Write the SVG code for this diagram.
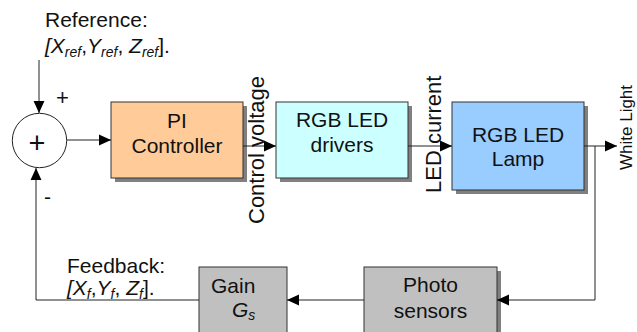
<svg xmlns="http://www.w3.org/2000/svg" width="637" height="332" viewBox="0 0 637 332">
<style>
text{font-family:"Liberation Sans",Arial,sans-serif;font-size:21px;fill:#111}
.box{stroke:#333;stroke-width:1}
.sh{fill:#808080}
.c{text-anchor:middle}
.it{font-style:italic}
.sub{font-style:italic;font-size:14px}
.rot{font-size:22px}
.ln{fill:none;stroke:#222;stroke-width:1}
</style>
<defs>
<marker id="ah" markerUnits="userSpaceOnUse" markerWidth="12" markerHeight="12" viewBox="0 0 11 10" refX="11" refY="5" orient="auto">
<path d="M0,0 L11,5 L0,10 z" fill="#000"/>
</marker>
</defs>
<rect width="637" height="332" fill="#fff"/>

<g id="sum">
<circle cx="39.5" cy="140.5" r="27.2" fill="#fff" stroke="#222" stroke-width="1"/>
<text x="37" y="153" style="font-size:29px" class="c">+</text>
</g>

<g id="pi">
<rect class="sh" x="115" y="106" width="132" height="76"/>
<rect class="box" x="111" y="102" width="132" height="76" fill="#FFCC99"/>
<text class="c" x="177" y="128">PI</text>
<text class="c" x="177" y="153">Controller</text>
</g>

<g id="drivers">
<rect class="sh" x="280" y="106" width="132" height="76"/>
<rect class="box" x="276" y="102" width="132" height="76" fill="#CCFFFF"/>
<text class="c" x="342" y="127">RGB LED</text>
<text class="c" x="342" y="152">drivers</text>
</g>

<g id="lamp">
<rect class="sh" x="456" y="106" width="132" height="88"/>
<rect class="box" x="452" y="102" width="132" height="88" fill="#99CCFF"/>
<text class="c" x="518" y="142">RGB LED</text>
<text class="c" x="518" y="166">Lamp</text>
</g>

<g id="photo">
<rect class="sh" x="368" y="271" width="133" height="80"/>
<rect class="box" x="364" y="267" width="133" height="80" fill="#C0C0C0"/>
<text class="c" x="430.5" y="292">Photo</text>
<text class="c" x="430.5" y="318">sensors</text>
</g>

<g id="gain">
<rect class="box" x="199" y="267" width="88" height="80" fill="#C0C0C0"/>
<text x="211" y="293">Gain</text>
<text x="232" y="317"><tspan class="it">G</tspan><tspan class="sub" dy="3">s</tspan></text>
</g>

<g id="connectors">
<line class="ln" x1="39" y1="60" x2="39" y2="113" marker-end="url(#ah)"/>
<line class="ln" x1="67" y1="140" x2="111" y2="140" marker-end="url(#ah)"/>
<line class="ln" x1="243" y1="146" x2="276" y2="146" marker-end="url(#ah)"/>
<line class="ln" x1="408" y1="146" x2="452" y2="146" marker-end="url(#ah)"/>
<line class="ln" x1="584" y1="146" x2="617" y2="146" marker-end="url(#ah)"/>
<polyline class="ln" points="595,146 595,300 497,300" marker-end="url(#ah)"/>
<line class="ln" x1="364" y1="300" x2="287" y2="300" marker-end="url(#ah)"/>
<polyline class="ln" points="199,300 36,300 36,168" marker-end="url(#ah)"/>
</g>

<g id="labels">
<text x="45" y="27">Reference:</text>
<text x="45" y="53"><tspan class="it">[X</tspan><tspan class="sub" dy="4">ref</tspan><tspan dy="-4">,</tspan><tspan class="it">Y</tspan><tspan class="sub" dy="4">ref</tspan><tspan dy="-4">, </tspan><tspan class="it">Z</tspan><tspan class="sub" dy="4">ref</tspan><tspan dy="-4">].</tspan></text>
<text x="62.5" y="105" class="c" style="font-size:22px">+</text>
<text x="44" y="204">-</text>
<text x="67" y="273">Feedback:</text>
<text x="67" y="295"><tspan class="it">[X</tspan><tspan class="sub" dy="4">f</tspan><tspan dy="-4">,</tspan><tspan class="it">Y</tspan><tspan class="sub" dy="4">f</tspan><tspan dy="-4">, </tspan><tspan class="it">Z</tspan><tspan class="sub" dy="4">f</tspan><tspan dy="-4">].</tspan></text>
<text class="rot" transform="translate(264,224) rotate(-90)">Control voltage</text>
<text class="rot" transform="translate(441,193) rotate(-90)">LED current</text>
<text transform="translate(632,170) rotate(-90)" style="font-size:17px">White Light</text>
</g>
</svg>
